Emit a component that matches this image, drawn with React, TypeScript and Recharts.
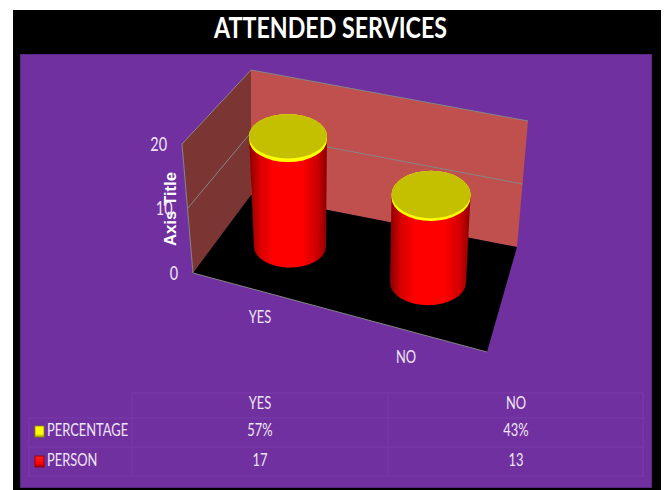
import React from 'react';
import { BarChart, Bar, XAxis, YAxis, Customized } from 'recharts';

const categories = ['YES', 'NO'];
const person = [17, 13];
const percentage = [0.57, 0.43];
const yTicks = [0, 10, 20];

const rows = categories.map((name, i) => ({
  name,
  person: person[i],
  percentage: percentage[i],
}));

const WIDTH = 665;
const HEIGHT = 490;
const PURPLE = '#7030a0';
const TEXT = '#efe6f5';

// flat plot rectangle the bars are laid out in, before the 3d shear
const PLOT = { left: 221, right: 497, top: 120, bottom: 246 };
const BAND = (PLOT.right - PLOT.left) / 2;
const FIRST_CENTER = PLOT.left + BAND / 2;

// corners of the box
const BACK_TOP_L = [251, 70];
const BACK_TOP_R = [528, 121];
const BACK_BOT_L = [251, 195];
const BACK_BOT_R = [517, 247];
const FRONT_TOP_L = [182, 144];
const FRONT_BOT_L = [193, 273];
const FRONT_BOT_R = [487, 352];

const lerp = (a: number[], b: number[], t: number) => [
  a[0] + (b[0] - a[0]) * t,
  a[1] + (b[1] - a[1]) * t,
];
const pts = (...p: number[][]) => p.map((q) => q.join(',')).join(' ');

// position and radius of the cylinder section at flat coordinates (cx, flatY)
function section(cx: number, flatY: number, width: number) {
  const t = (cx - FIRST_CENTER) / BAND;
  const h = PLOT.bottom - flatY;
  const rx = width / 2 + 2 * t + ((3 - t) * h) / 110;
  return {
    x: cx + ((-2 + 6 * t) * h) / 110,
    y: PLOT.bottom + 1 + 35.5 * t - h * (1 + 0.04 * t),
    rx,
    ry: rx * (0.57 + 0.03 * t),
  };
}

function band(a: ReturnType<typeof section>, b: ReturnType<typeof section>) {
  return [
    `M${a.x - a.rx},${a.y}`,
    `A${a.rx},${a.ry} 0 0 0 ${a.x + a.rx},${a.y}`,
    `L${b.x + b.rx},${b.y}`,
    `A${b.rx},${b.ry} 0 0 0 ${b.x - b.rx},${b.y}`,
    'Z',
  ].join(' ');
}

function PersonCylinder({ x, y, width, height }: any) {
  const cx = x + width / 2;
  const bottom = section(cx, y + height, width);
  const top = section(cx, y, width);
  return <path d={band(bottom, top)} fill="url(#redBody)" />;
}

function PercentageCap({ x, y, width, height }: any) {
  const cx = x + width / 2;
  const bottom = section(cx, y + height, width);
  const top = section(cx, y, width);
  return (
    <g>
      <path d={band(bottom, top)} fill="#ffff00" />
      <ellipse cx={top.x} cy={top.y} rx={top.rx} ry={top.ry} fill="#c4c000" />
    </g>
  );
}

// Lato squeezed horizontally, the installed font closest to the condensed labels
function Label({ x, y, anchor = 'middle', size = 17, children }: any) {
  return (
    <text
      transform={`translate(${x} ${y + 2}) scale(0.76 1)`}
      textAnchor={anchor}
      dominantBaseline="middle"
      fontFamily="Lato, sans-serif"
      fontSize={size}
      fill={TEXT}
    >
      {children}
    </text>
  );
}

function SideTick({ payload }: any) {
  const p = lerp(FRONT_BOT_L, FRONT_TOP_L, payload.value / 20);
  return (
    <Label x={p[0] - 15} y={p[1]} anchor="end" size={19}>
      {payload.value}
    </Label>
  );
}

function FloorTick({ x, payload }: any) {
  const t = (x - FIRST_CENTER) / BAND;
  return (
    <Label x={260 + 146 * t} y={317 + 40 * t}>
      {payload.value}
    </Label>
  );
}

// back wall, side wall, floor and the gridlines across both walls
function Box() {
  return (
    <g>
      <polygon points={pts(BACK_TOP_L, BACK_TOP_R, BACK_BOT_R, BACK_BOT_L)} fill="#c0504d" />
      <polygon points={pts(BACK_TOP_L, BACK_BOT_L, FRONT_BOT_L, FRONT_TOP_L)} fill="#7b3634" />
      <polygon points={pts(BACK_BOT_L, BACK_BOT_R, FRONT_BOT_R, FRONT_BOT_L)} fill="#000000" />
      {yTicks.map((v) => {
        const t = v / 20;
        const front = lerp(FRONT_BOT_L, FRONT_TOP_L, t);
        const back = lerp(BACK_BOT_L, BACK_TOP_L, t);
        const right = lerp(BACK_BOT_R, BACK_TOP_R, t);
        if (v === 0) return null;
        return (
          <polyline
            key={v}
            points={pts(front, back, right)}
            fill="none"
            stroke="#868686"
            strokeWidth={1}
          />
        );
      })}
      <polyline points={pts(FRONT_TOP_L, FRONT_BOT_L, FRONT_BOT_R)} fill="none" stroke="#868686" strokeWidth={1} />
    </g>
  );
}

const ROW_LINES = [393, 418, 447, 476];
const COL_LINES = [29, 132, 388, 643];
const COL_CENTERS = [260, 516];

function DataTable() {
  const line = '#7a3aa9';
  return (
    <g>
      <line x1={COL_LINES[1]} x2={COL_LINES[3]} y1={ROW_LINES[0]} y2={ROW_LINES[0]} stroke={line} />
      {ROW_LINES.slice(1).map((y) => (
        <line key={y} x1={COL_LINES[0]} x2={COL_LINES[3]} y1={y} y2={y} stroke={line} />
      ))}
      <line x1={COL_LINES[0]} x2={COL_LINES[0]} y1={ROW_LINES[1]} y2={ROW_LINES[3]} stroke={line} />
      {COL_LINES.slice(1).map((x) => (
        <line key={x} x1={x} x2={x} y1={ROW_LINES[0]} y2={ROW_LINES[3]} stroke={line} />
      ))}
      {categories.map((c, i) => (
        <Label key={c} x={COL_CENTERS[i]} y={403}>{c}</Label>
      ))}
      {percentage.map((v, i) => (
        <Label key={i} x={COL_CENTERS[i]} y={430}>{`${Math.round(v * 100)}%`}</Label>
      ))}
      {person.map((v, i) => (
        <Label key={i} x={COL_CENTERS[i]} y={460}>{v}</Label>
      ))}
      <rect x={35} y={426} width={9} height={11} fill="url(#yellowKey)" stroke="#8a8a00" strokeWidth={0.8} />
      <rect x={35} y={456} width={9} height={11} fill="url(#redKey)" stroke="#8e0000" strokeWidth={0.8} />
      <Label x={47} y={430} anchor="start">PERCENTAGE</Label>
      <Label x={47} y={460} anchor="start">PERSON</Label>
    </g>
  );
}

function Titles() {
  return (
    <g>
      <text
        x={330.5}
        y={30.5}
        textAnchor="middle"
        dominantBaseline="middle"
        fontFamily="Lato, sans-serif"
        fontWeight="bold"
        fontSize={29}
        textLength={233}
        lengthAdjust="spacingAndGlyphs"
        fill="#ffffff"
      >
        ATTENDED SERVICES
      </text>
      <text
        transform="translate(176 209) rotate(-90)"
        textAnchor="middle"
        fontFamily='"Liberation Sans", sans-serif'
        fontWeight="bold"
        fontSize={16}
        textLength={74}
        lengthAdjust="spacingAndGlyphs"
        fill="#ffffff"
      >
        Axis Title
      </text>
    </g>
  );
}

export default function App() {
  return (
    <div style={{ position: 'absolute', left: 0, top: 0, width: WIDTH, height: HEIGHT, background: '#ffffff' }}>
      <div style={{ position: 'absolute', left: 13, top: 10, width: 648, height: 480, background: '#000000' }} />
      <div
        style={{
          position: 'absolute',
          left: 20,
          top: 54,
          width: 632,
          height: 434,
          background: PURPLE,
          boxSizing: 'border-box',
          border: '1px solid #5b2585',
        }}
      />
      <div style={{ position: 'absolute', left: 0, top: 0 }}>
        <BarChart
          width={WIDTH}
          height={HEIGHT}
          data={rows}
          barSize={72}
          margin={{
            left: PLOT.left - 60,
            right: WIDTH - PLOT.right,
            top: PLOT.top,
            bottom: HEIGHT - PLOT.bottom - 30,
          }}
        >
          <defs>
            <linearGradient id="redBody" x1="0" y1="0" x2="1" y2="0">
              <stop offset="0%" stopColor="#8a0000" />
              <stop offset="14%" stopColor="#d80000" />
              <stop offset="32%" stopColor="#ff0000" />
              <stop offset="68%" stopColor="#ff0000" />
              <stop offset="88%" stopColor="#cc0000" />
              <stop offset="100%" stopColor="#8a0000" />
            </linearGradient>
            <linearGradient id="yellowKey" x1="0" y1="0" x2="0" y2="1">
              <stop offset="0%" stopColor="#ffff00" />
              <stop offset="70%" stopColor="#ffff00" />
              <stop offset="100%" stopColor="#a8a800" />
            </linearGradient>
            <linearGradient id="redKey" x1="0" y1="0" x2="0" y2="1">
              <stop offset="0%" stopColor="#ff2020" />
              <stop offset="70%" stopColor="#ff0000" />
              <stop offset="100%" stopColor="#a00000" />
            </linearGradient>
          </defs>
          <Customized component={Box} />
          <Customized component={DataTable} />
          <XAxis dataKey="name" axisLine={false} tickLine={false} height={30} tick={FloorTick} />
          <YAxis
            domain={[0, 20]}
            ticks={yTicks}
            axisLine={false}
            tickLine={false}
            width={60}
            tick={SideTick}
          />
          <Bar dataKey="person" stackId="a" isAnimationActive={false} shape={PersonCylinder} />
          <Bar dataKey="percentage" stackId="a" isAnimationActive={false} shape={PercentageCap} />
          <Customized component={Titles} />
        </BarChart>
      </div>
    </div>
  );
}
